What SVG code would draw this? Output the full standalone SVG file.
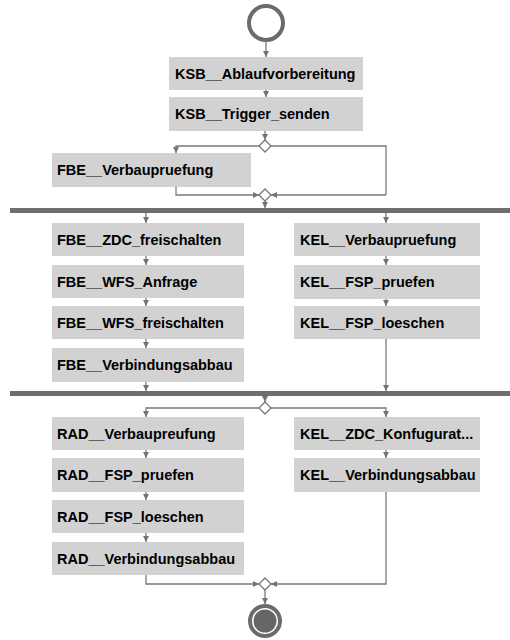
<svg xmlns="http://www.w3.org/2000/svg" width="510" height="640" viewBox="0 0 510 640">
<defs>
<marker id="ah" viewBox="0 0 6 6" refX="6" refY="3" markerWidth="6" markerHeight="6" orient="auto" markerUnits="userSpaceOnUse">
<path d="M0,0 L6,3 L0,6 z" fill="#737373"/>
</marker>
<style>
.box{fill:#d2d2d2;}
.lbl{font-family:"Liberation Sans",Arial,sans-serif;font-weight:bold;font-size:14.5px;fill:#000;}
.ln{fill:none;stroke:#7a7a7a;stroke-width:1.3;}
.ar{fill:none;stroke:#7a7a7a;stroke-width:1.3;marker-end:url(#ah);}
.bar{fill:#6e6e6e;}
.dia{fill:#fff;stroke:#777;stroke-width:1.3;}
</style>
</defs>
<rect width="510" height="640" fill="#fff"/>

<g id="start"><circle cx="266" cy="23" r="17" fill="none" stroke="#6b6b6b" stroke-width="4"/></g>

<g id="n_ksb_ablauf"><rect class="box" x="169" y="57" width="194" height="33"/><text class="lbl" x="175" y="78.5">KSB__Ablaufvorbereitung</text></g>
<g id="n_ksb_trigger"><rect class="box" x="169" y="97" width="194" height="34"/><text class="lbl" x="175" y="119">KSB__Trigger_senden</text></g>
<g id="d1"><polygon class="dia" points="265,140 271,146 265,152 259,146"/></g>
<g id="n_fbe_verbau"><rect class="box" x="52" y="153" width="199" height="34"/><text class="lbl" x="57" y="175">FBE__Verbaupruefung</text></g>
<g id="m1"><polygon class="dia" points="265,189 271,195 265,201 259,195"/></g>
<g id="fork"><rect class="bar" x="10" y="208" width="500" height="5"/></g>

<g id="n_fbe_zdc"><rect class="box" x="52" y="223" width="192" height="33"/><text class="lbl" x="57" y="244.5">FBE__ZDC_freischalten</text></g>
<g id="n_fbe_wfs_anfrage"><rect class="box" x="52" y="265" width="192" height="33"/><text class="lbl" x="57" y="286.5">FBE__WFS_Anfrage</text></g>
<g id="n_fbe_wfs_frei"><rect class="box" x="52" y="306" width="192" height="33"/><text class="lbl" x="57" y="327.5">FBE__WFS_freischalten</text></g>
<g id="n_fbe_verbindung"><rect class="box" x="52" y="348" width="192" height="34"/><text class="lbl" x="57" y="369.5">FBE__Verbindungsabbau</text></g>
<g id="n_kel_verbau"><rect class="box" x="294" y="223" width="186" height="33"/><text class="lbl" x="300" y="244.5">KEL__Verbaupruefung</text></g>
<g id="n_kel_fsp_pruefen"><rect class="box" x="294" y="265" width="186" height="34"/><text class="lbl" x="300" y="287">KEL__FSP_pruefen</text></g>
<g id="n_kel_fsp_loeschen"><rect class="box" x="294" y="306" width="186" height="33"/><text class="lbl" x="300" y="327.5">KEL__FSP_loeschen</text></g>

<g id="join"><rect class="bar" x="10" y="391" width="500" height="5"/></g>
<g id="d2"><polygon class="dia" points="265,402 271,408 265,414 259,408"/></g>

<g id="n_rad_verbau"><rect class="box" x="52" y="417" width="192" height="33"/><text class="lbl" x="57" y="438.5">RAD__Verbaupreufung</text></g>
<g id="n_rad_fsp_pruefen"><rect class="box" x="52" y="458" width="192" height="34"/><text class="lbl" x="57" y="480">RAD__FSP_pruefen</text></g>
<g id="n_rad_fsp_loeschen"><rect class="box" x="52" y="500" width="192" height="33"/><text class="lbl" x="57" y="521.5">RAD__FSP_loeschen</text></g>
<g id="n_rad_verbindung"><rect class="box" x="52" y="542" width="192" height="33"/><text class="lbl" x="57" y="563.5">RAD__Verbindungsabbau</text></g>
<g id="n_kel_zdc"><rect class="box" x="294" y="417" width="186" height="33"/><text class="lbl" x="300" y="438.5">KEL__ZDC_Konfugurat...</text></g>
<g id="n_kel_verbindung"><rect class="box" x="294" y="458" width="186" height="34"/><text class="lbl" x="300" y="480">KEL__Verbindungsabbau</text></g>
<g id="m2"><polygon class="dia" points="265,578 271,584 265,590 259,584"/></g>

<g id="end"><circle cx="265" cy="621" r="15" fill="none" stroke="#6b6b6b" stroke-width="4"/><circle cx="265" cy="621" r="11.5" fill="#666"/></g>

<g id="connectors">
<path class="ar" d="M266,41 V57"/>
<path class="ar" d="M266,90 V97"/>
<path class="ar" d="M265,131 V140"/>
<path class="ar" d="M259,146 H176 V153"/>
<path class="ln" d="M271,146 H386 V195"/>
<path class="ar" d="M386,195 H271"/>
<path class="ar" d="M176,187 V195 H259"/>
<path class="ar" d="M265,201 V208"/>
<path class="ar" d="M146,213 V223"/>
<path class="ar" d="M386,213 V223"/>
<path class="ar" d="M146,256 V265"/>
<path class="ar" d="M146,298 V306"/>
<path class="ar" d="M146,339 V348"/>
<path class="ar" d="M146,382 V391"/>
<path class="ar" d="M386,256 V265"/>
<path class="ar" d="M386,299 V306"/>
<path class="ar" d="M386,339 V391"/>
<path class="ar" d="M265,396 V402"/>
<path class="ar" d="M259,408 H146 V417"/>
<path class="ar" d="M271,408 H386 V417"/>
<path class="ar" d="M146,450 V458"/>
<path class="ar" d="M146,492 V500"/>
<path class="ar" d="M146,533 V542"/>
<path class="ar" d="M386,450 V458"/>
<path class="ar" d="M146,575 V584 H259"/>
<path class="ar" d="M386,492 V584 H271"/>
<path class="ar" d="M265,590 V604"/>
</g>
</svg>
